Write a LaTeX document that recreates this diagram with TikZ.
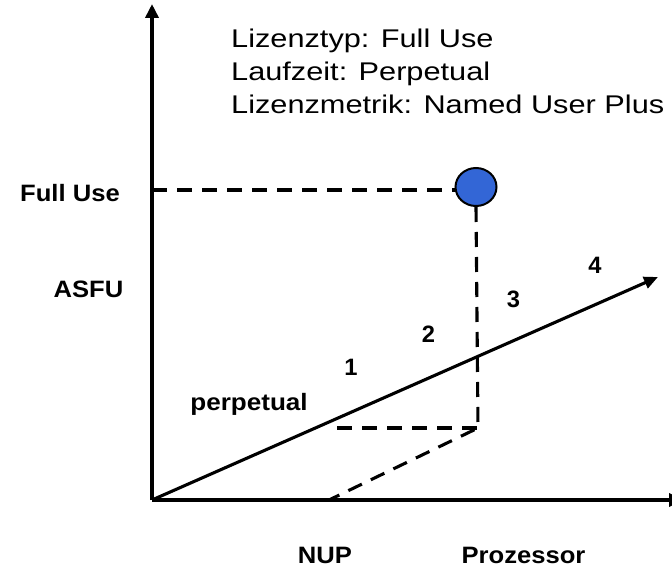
\documentclass[tikz,border=0pt]{standalone}
\usepackage{fontspec}
\setmainfont{Liberation Sans}
\usetikzlibrary{arrows.meta,shapes.geometric}
\definecolor{blueball}{RGB}{51,102,214}
\tikzset{
  axis/.style={line width=3.8pt,-{Triangle[length=14pt,width=13pt]}},
  diag/.style={line width=3.1pt,-{Triangle[length=14pt,width=12pt]}},
  dashline/.style={line width=3.1pt,dash pattern=on 15pt off 10pt},
  toptext/.style={anchor=base west,inner sep=0pt,font=\fontsize{25.6}{30}\selectfont},
  boldlab/.style={inner sep=0pt,font=\fontsize{23.7}{28}\selectfont\bfseries},
}
\begin{document}
\begin{tikzpicture}[x=1pt,y=-1pt]
\useasboundingbox[fill=white] (0,0) rectangle (672,567);
\coordinate (O) at (152,500);
\coordinate (Ytop) at (152,4);
\coordinate (Xend) at (683,500);
\coordinate (Dend) at (658,277);
\coordinate (FU) at (152,190);
\coordinate (C1) at (478,428);
\coordinate (H1) at (337,428);
\coordinate (N1) at (329,500);
\node[ellipse,draw,fill=blueball,minimum width=41pt,minimum height=38pt,inner sep=0pt,line width=2pt] (ball) at (476,187) {};
% dashed guides
\draw[dashline] (FU) -- (FU -| ball.west);
\draw[dashline] (ball.south) -- (C1) -- (N1);
\draw[dashline] (H1) -- (C1);
% axes
\draw[axis] (O) -- (Ytop);
\draw[axis] (O) -- (Xend);
\draw[diag] (O) -- (Dend);
% top text
\node[toptext] (t1) at (231,48) {\scalebox{1.2}[1]{Lizenztyp: Full Use}};
\node[toptext] (t2) at (231,81) {\scalebox{1.2}[1]{Laufzeit: Perpetual}};
\node[toptext] (t3) at (231,114) {\scalebox{1.2}[1]{Lizenzmetrik: Named User Plus}};
% axis labels
\node[boldlab,anchor=base] (lfu) at (70,201) {\scalebox{1.08}[1]{Full Use}};
\node[boldlab,anchor=base] (lasfu) at (88.5,297) {\scalebox{1.08}[1]{ASFU}};
\node[boldlab,anchor=base] (lnup) at (325,563) {\scalebox{1.08}[1]{NUP}};
\node[boldlab,anchor=base] (lproz) at (523.5,563) {\scalebox{1.08}[1]{Prozessor}};
\node[boldlab,anchor=base] (lperp) at (249,410) {\scalebox{1.1}[1]{perpetual}};
% numbers
\node[boldlab,anchor=base] (n1) at (351,375) {1};
\node[boldlab,anchor=base] (n2) at (428.5,342) {2};
\node[boldlab,anchor=base] (n3) at (513.5,307) {3};
\node[boldlab,anchor=base] (n4) at (595,273) {4};
\end{tikzpicture}
\end{document}
